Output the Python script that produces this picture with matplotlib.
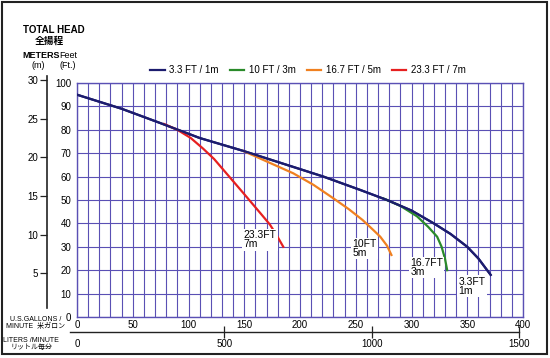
import matplotlib
matplotlib.use("Agg")
import matplotlib.pyplot as plt
from matplotlib.patches import Rectangle

plt.rcParams['font.family'] = ['Liberation Sans Narrow', 'Liberation Sans', 'Noto Sans CJK JP', 'DejaVu Sans']

# curves: flow (US GPM) vs head (feet)
gpm_1m = [0, 40, 74, 110, 149, 185, 221, 254, 278, 300, 320, 335, 350, 360, 371]
ft_1m = [95, 89, 83, 76.5, 71, 65.5, 60, 54.3, 50, 45.5, 40, 35.5, 30, 25, 18]

gpm_3m = [275, 290, 305, 315, 323, 327, 330, 332]
ft_3m = [50.6, 47.5, 43, 38.5, 34.3, 30, 25, 20]

gpm_5m = [149, 170, 194, 212, 230, 244, 256, 265, 272, 278, 282]
ft_5m = [71, 66.5, 61.4, 56.5, 50.7, 46, 41.5, 37.5, 34.3, 30.5, 26.5]

gpm_7m = [78, 90, 102, 113, 123, 132, 141, 150, 158, 166, 173, 179, 185]
ft_7m = [82.5, 80, 76.5, 72, 67.5, 62.5, 57.5, 52.5, 48, 43.5, 39.5, 35, 30]

series_names = ['3.3 FT / 1m', '10 FT / 3m', '16.7 FT / 5m', '23.3 FT / 7m']
series_colors = ['#1c1c6e', '#2a8a2a', '#f08020', '#e62020']

# curve end labels (text, gpm, ft)
end_labels = [('23.3FT\n7m', 164, 33), ('10FT\n5m', 258, 29.3),
              ('16.7FT\n3m', 313.6, 21.2), ('3.3FT\n1m', 354, 13.2)]

ft_ticks = list(range(0, 101, 10))
gpm_ticks = list(range(0, 401, 50))
m_ticks = [5, 10, 15, 20, 25, 30]
liter_ticks = [0, 500, 1000, 1500]

W, H = 550, 358
fig = plt.figure(figsize=(W / 100, H / 100), dpi=100)


def fx(px):
    return px / W


def fy(py):
    return 1 - py / H


grid_col = '#5a50b4'

# main chart
ax = fig.add_axes([fx(77), fy(317), fx(523) - fx(77), fy(83) - fy(317)])
ax.set_xlim(0, 400)
ax.set_ylim(0, 100)
ax.set_xticks(gpm_ticks)
ax.set_xticks(range(0, 401, 10), minor=True)
ax.set_yticks(ft_ticks)
ax.grid(True, which='both', color=grid_col, lw=0.8)
ax.tick_params(which='both', length=0, labelsize=7)
ax.tick_params(axis='x', pad=2.5)
ax.tick_params(axis='y', pad=4)
for s in ax.spines.values():
    s.set_color(grid_col)
    s.set_linewidth(1.0)

data = [(gpm_1m, ft_1m), (gpm_3m, ft_3m), (gpm_5m, ft_5m), (gpm_7m, ft_7m)]
handles = []
for (xs, ys), name, col in zip(data, series_names, series_colors):
    h, = ax.plot(xs, ys, color=col, lw=1.6, label=name, zorder=3,
                 solid_joinstyle='round')
    handles.append(h)
# redraw the main curve above the branches
ax.plot(gpm_1m, ft_1m, color=series_colors[0], lw=1.6, zorder=4, solid_joinstyle='round')

for txt, x, y in end_labels:
    ax.text(x, y, txt, fontsize=7.5, ha='center', va='center', multialignment='left',
            linespacing=0.85, zorder=5,
            bbox=dict(facecolor='white', edgecolor='none', pad=1.0))

fig.legend(handles=handles, loc='center', bbox_to_anchor=(fx(308), fy(70)),
           ncol=4, frameon=False, fontsize=7, handlelength=1.5,
           handletextpad=0.5, columnspacing=1.1)

# meters scale on the far left
axm = fig.add_axes([fx(47), fy(308), 0.0001, fy(76) - fy(308)])
axm.set_ylim(0.52, 30.52)
axm.set_yticks(m_ticks)
axm.set_xticks([])
for k in ['top', 'right', 'bottom']:
    axm.spines[k].set_visible(False)
axm.spines['left'].set_color('#222222')
axm.spines['left'].set_linewidth(1.2)
axm.tick_params(axis='y', length=5, width=0.9, color='#222222', labelsize=7, pad=1.5)
axm.patch.set_visible(False)

# liters scale under the gallons scale
axl = fig.add_axes([fx(70), fy(332), fx(519) - fx(70), 0.0001])
axl.set_xlim(-7 / 0.2946, 1500 * 1.0)
axl.set_xticks(liter_ticks)
axl.set_yticks([])
for k in ['top', 'right', 'left']:
    axl.spines[k].set_visible(False)
axl.spines['bottom'].set_color('#222222')
axl.spines['bottom'].set_linewidth(1.0)
axl.tick_params(axis='x', direction='inout', length=8, width=0.9, color='#222222',
                labelsize=7, pad=1)
axl.xaxis.get_major_ticks()[0].tick1line.set_visible(False)
axl.patch.set_visible(False)

# header texts
fig.text(fx(54), fy(30), 'TOTAL HEAD', fontsize=7, fontweight='bold',
         ha='center', va='center', family=['Liberation Sans', 'DejaVu Sans'])
fig.text(fx(49), fy(41), '全揚程', fontsize=7, fontweight='bold', ha='center', va='center',
         family=['Noto Sans CJK JP', 'DejaVu Sans'])
fig.text(fx(22), fy(55), 'METERS', fontsize=6.5, fontweight='bold', ha='left', va='center',
         family=['Liberation Sans Narrow', 'Liberation Sans', 'DejaVu Sans'])
fig.text(fx(59), fy(55), 'Feet', fontsize=6.5, ha='left', va='center')
fig.text(fx(38), fy(66), '(m)', fontsize=6.5, ha='center', va='center')
fig.text(fx(68), fy(66), '(Ft.)', fontsize=6.5, ha='center', va='center')

fig.text(fx(36), fy(323), 'U.S.GALLONS /\nMINUTE  米ガロン', fontsize=5, ha='center',
         va='center', linespacing=1.1)
fig.text(fx(31), fy(344), 'LITERS /MINUTE\nリットル毎分', fontsize=5, ha='center',
         va='center', linespacing=1.1)

# outer frame
fig.patches.append(Rectangle((fx(2), fy(354)), fx(547) - fx(2), fy(2) - fy(354),
                             transform=fig.transFigure, fill=False,
                             edgecolor='#222222', lw=1.5))

fig.savefig('out.png', dpi=100)
